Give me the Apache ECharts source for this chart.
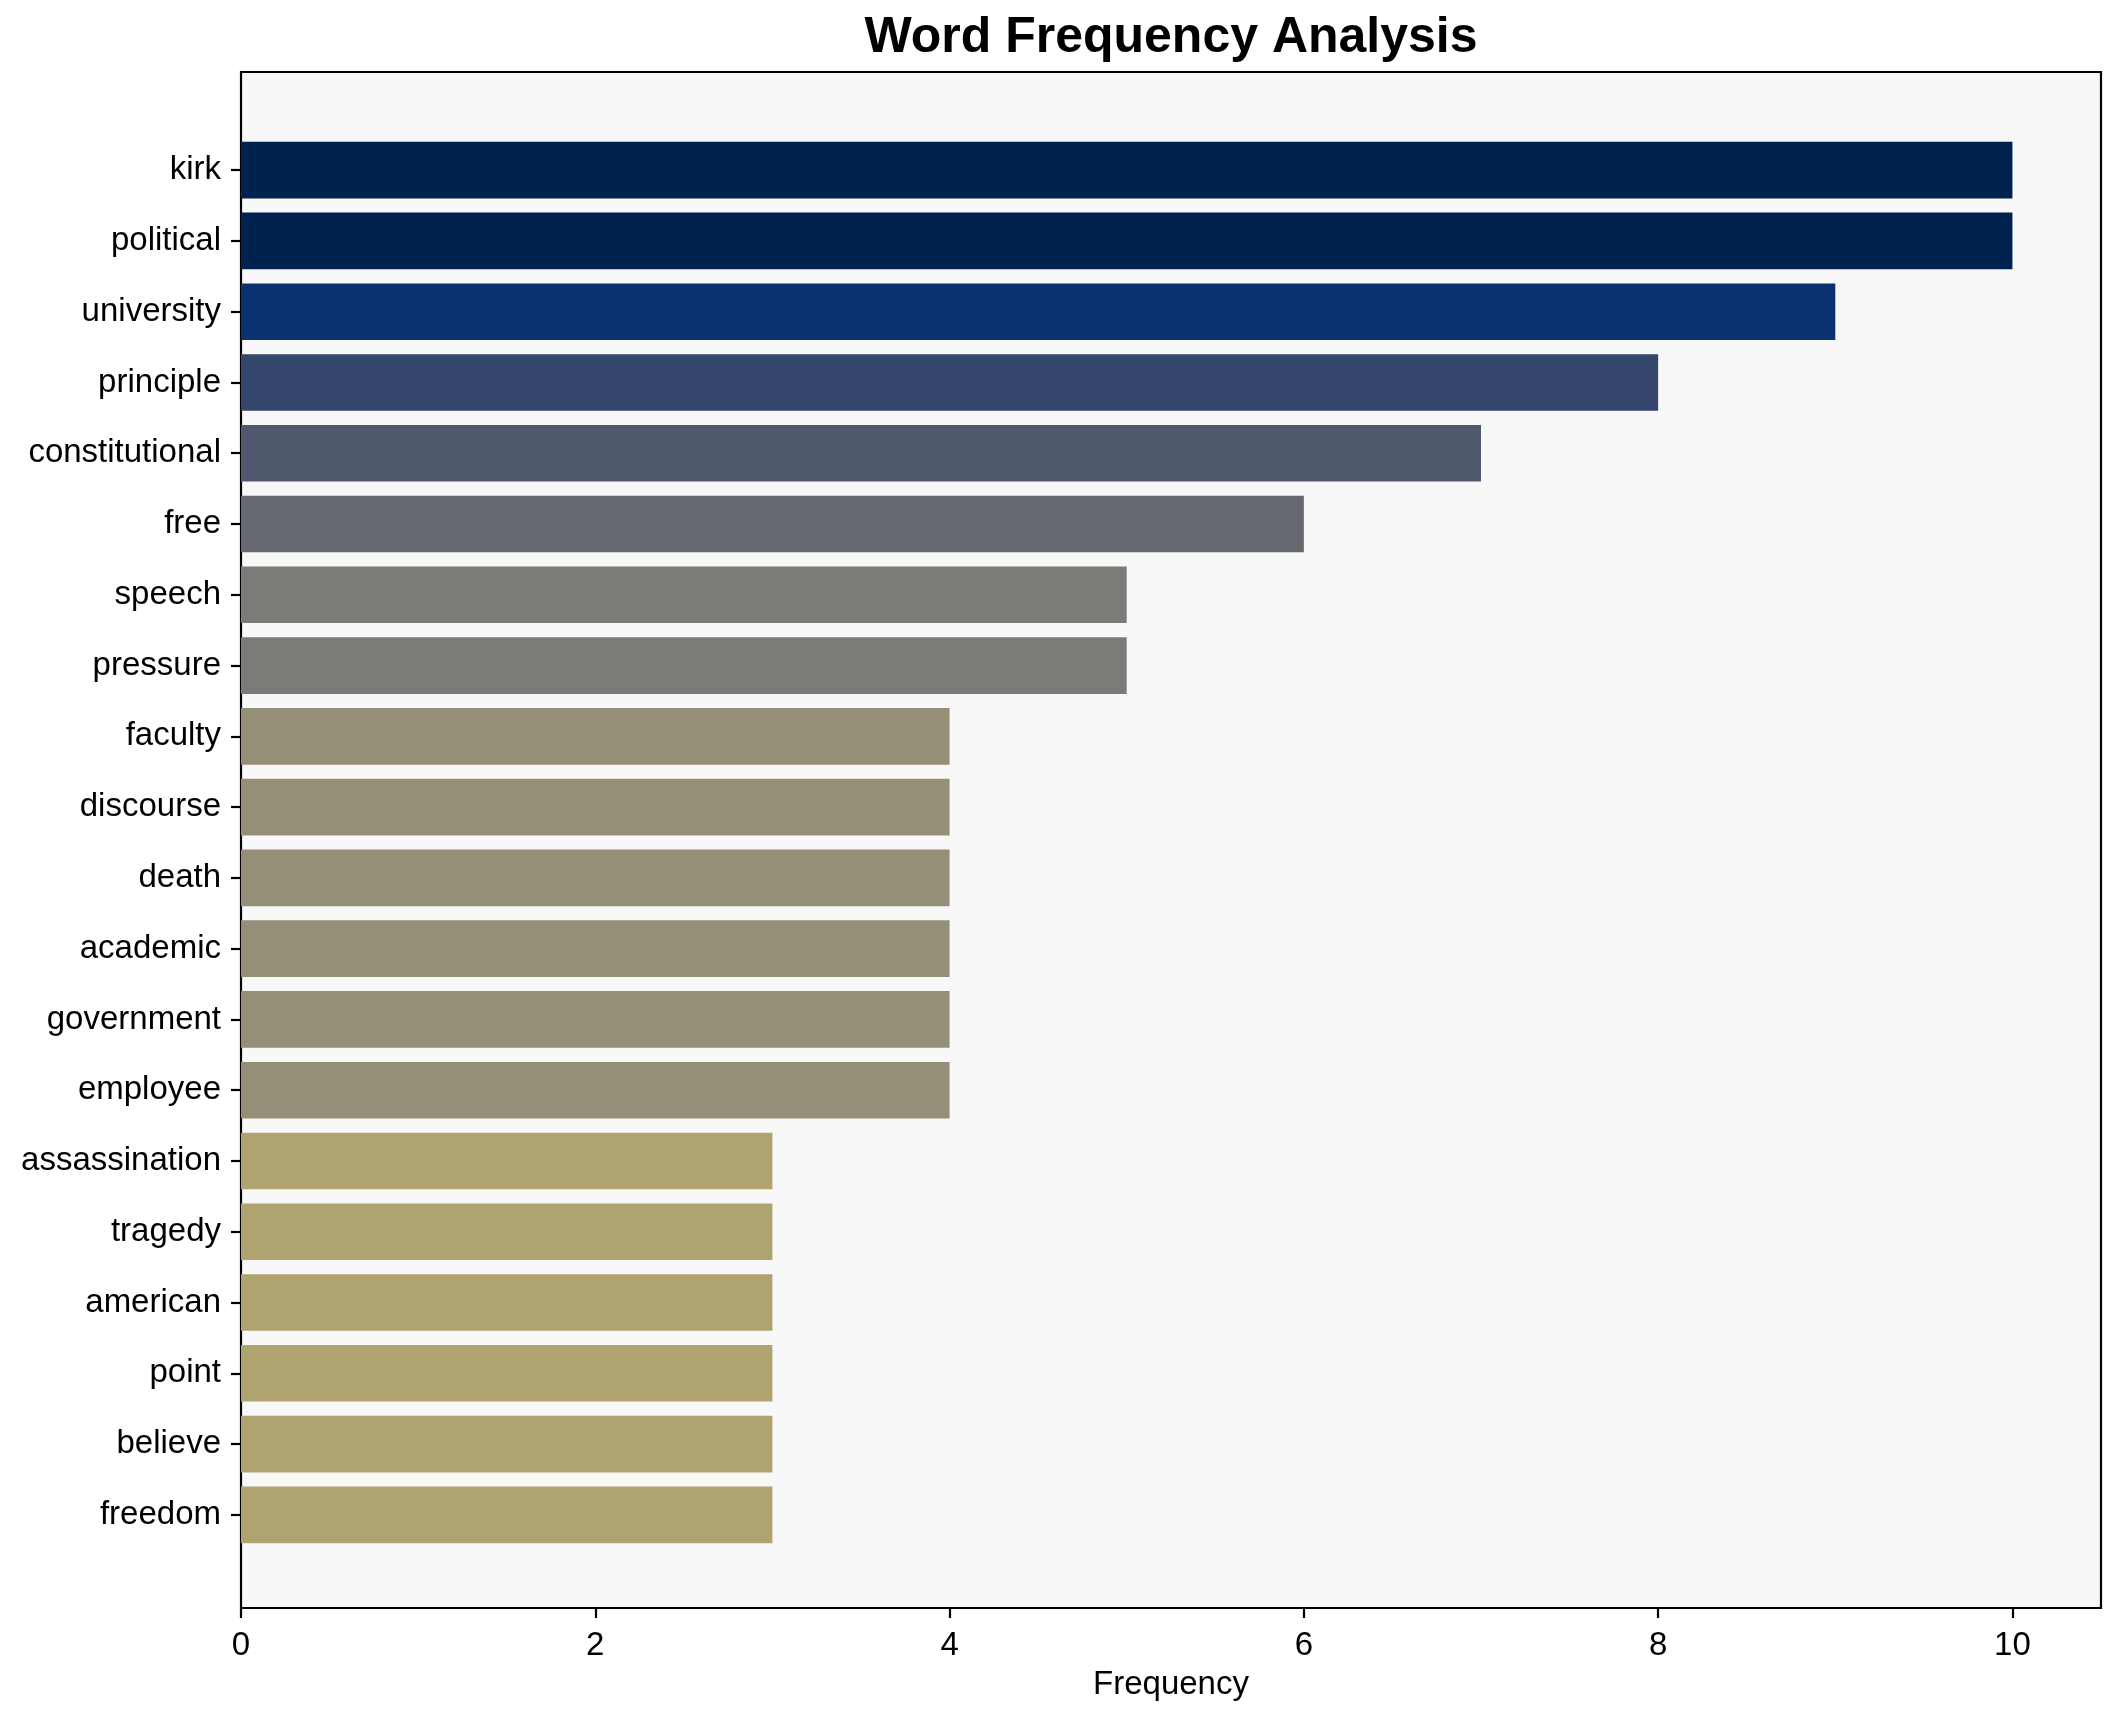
<!DOCTYPE html>
<html>
<head>
<meta charset="utf-8">
<script src="https://cdn.jsdelivr.net/npm/echarts@6/dist/echarts.min.js"></script>
<style>
html,body{margin:0;padding:0;background:#fff;}
#main{width:2121px;height:1722px;}
</style>
</head>
<body>
<div id="main"></div>
<script>
const words = ['kirk','political','university','principle','constitutional','free','speech','pressure','faculty','discourse','death','academic','government','employee','assassination','tragedy','american','point','believe','freedom'];
const frequencies = [10,10,9,8,7,6,5,5,4,4,4,4,4,4,3,3,3,3,3,3];
const xTicks = [0,2,4,6,8,10];
const colorByValue = {10:'#00224e',9:'#0b3270',8:'#35466c',7:'#4f586c',6:'#666970',5:'#7c7b78',4:'#958f77',3:'#afa370'};

const FONT = '"Liberation Sans", Arial, sans-serif';
const chart = echarts.init(document.getElementById('main'), null, {renderer:'canvas'});

const L = 241, R = 20, T = 72, B = 114;
const plotH = 1722 - T - B;
const unit = plotH / 21.78;
const innerMargin = 0.89 * unit;

chart.setOption({
  animation: false,
  backgroundColor: '#ffffff',
  title: {
    text: 'Word Frequency Analysis',
    left: 1171, top: 13, textAlign: 'center', padding: 0,
    textStyle: {fontFamily: FONT, fontSize: 50, fontWeight: 'bold', color: '#000'}
  },
  grid: [
    {left: L, right: R, top: T, bottom: B, show: true, backgroundColor: '#f8f8f8', borderColor: '#000', borderWidth: 2.2, outerBoundsMode: 'none', containLabel: false},
    {left: L, right: R, top: T + innerMargin, bottom: B + innerMargin - 5, show: false, outerBoundsMode: 'none', containLabel: false}
  ],
  xAxis: [
    {
      gridIndex: 0, type: 'value', min: 0, max: 10.5,
      splitLine: {show: false},
      axisLine: {show: false},
      axisTick: {show: true, length: 10, lineStyle: {color: '#000', width: 2.2}, customValues: xTicks},
      axisLabel: {fontFamily: FONT, fontSize: 33, color: '#000', margin: 21, customValues: xTicks},
      name: 'Frequency', nameLocation: 'middle', nameGap: 60,
      nameTextStyle: {fontFamily: FONT, fontSize: 33, color: '#000'}
    },
    {
      gridIndex: 1, type: 'value', min: 0, max: 10.5, show: false
    }
  ],
  yAxis: [
    {gridIndex: 0, type: 'value', min: 0, max: 1, show: false},
    {
      gridIndex: 1, type: 'category', data: words, inverse: true,
      axisLine: {show: false},
      axisTick: {show: true, alignWithLabel: true, length: 10, lineStyle: {color: '#000', width: 2.2}},
      axisLabel: {fontFamily: FONT, fontSize: 33, color: '#000', margin: 20},
      splitLine: {show: false}
    }
  ],
  series: [{
    type: 'bar', xAxisIndex: 1, yAxisIndex: 1,
    barWidth: '80%',
    data: frequencies.map(v => ({value: v, itemStyle: {color: colorByValue[v]}}))
  }]
});
</script>
</body>
</html>
